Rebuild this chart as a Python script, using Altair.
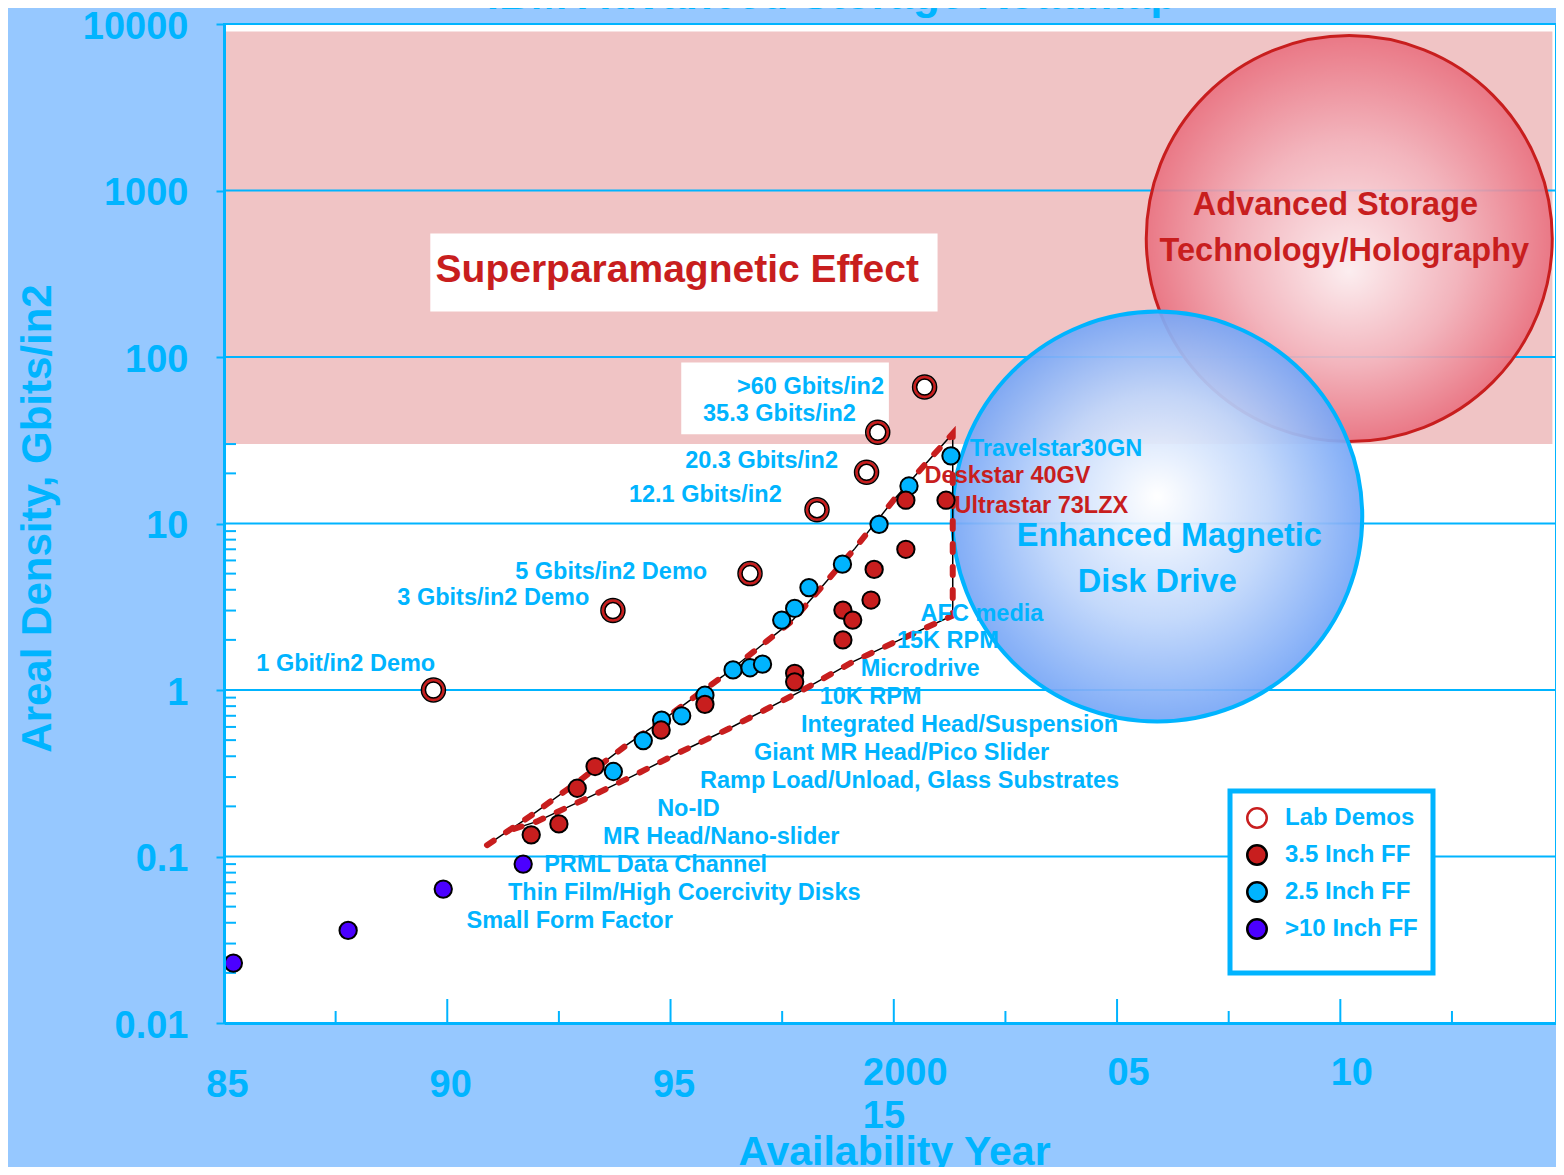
import altair as alt
import pandas as pd

CYAN = "#00B4FF"
RED = "#C81E1E"
PURPLE = "#4B00FF"
PINK = "#F0C4C5"
BG = "#96C8FF"
FONT = "Liberation Sans"

# ---------------- data ----------------
series_names = ["Lab Demos", "3.5 Inch FF", "2.5 Inch FF", ">10 Inch FF"]

lab_year = [89.69, 93.71, 96.78, 98.28, 99.39, 99.64, 100.69]
lab_density = [1.0, 3.0, 5.0, 12.1, 20.3, 35.3, 66.0]

ff35_year = [91.88, 92.50, 92.91, 93.31, 94.79, 95.77, 97.78, 97.78, 98.86, 99.08,
             98.86, 99.49, 99.56, 100.27, 100.27, 101.17]
ff35_density = [0.135, 0.157, 0.257, 0.347, 0.575, 0.82, 1.26, 1.12, 3.02, 2.63,
                2.0, 3.47, 5.3, 7.0, 13.8, 13.8]

ff25_year = [93.72, 94.39, 94.80, 95.25, 95.77, 96.40, 96.78, 97.06, 97.49, 97.78,
             98.10, 98.85, 99.67, 100.34, 101.28]
ff25_density = [0.324, 0.497, 0.66, 0.70, 0.93, 1.32, 1.36, 1.43, 2.63, 3.09,
                4.12, 5.7, 9.88, 16.8, 25.5]

ff10_year = [85.21, 87.78, 89.91, 91.70]
ff10_density = [0.0229, 0.036, 0.0637, 0.090]

trend_year = [90.89, 91.86, 92.98, 94.02, 95.10, 96.17, 97.15, 97.71, 98.23, 99.13,
              100.02, 100.76, 101.32, 101.32, 100.13, 99.09, 97.90, 96.29, 95.21,
              94.17, 93.13, 92.00, 91.41]
trend_density = [0.117, 0.175, 0.288, 0.468, 0.745, 1.21, 1.96, 2.58, 3.72, 7.09,
                 14.1, 23.6, 34.7, 2.8, 2.0, 1.48, 0.978, 0.583, 0.423,
                 0.306, 0.224, 0.162, 0.144]

band_year = [85.0, 114.75]
band_density = [30.0, 9000.0]

box_year1 = [89.62, 95.24]
box_year2 = [100.98, 99.89]
box_density1 = [187.5, 34.3]
box_density2 = [551.0, 92.7]

grid_values = [0.1, 1, 10, 100, 1000]
y_tick_values = [0.01, 0.1, 1, 10, 100, 1000, 10000]
y_tick_labels = ["0.01", "0.1", "1", "10", "100", "1000", "10000"]
y_minor_values = [m * d for d in (0.01, 0.1, 1) for m in range(2, 10)] + [20, 30]

x_tick_values = [85, 90, 95, 100, 105, 110]
x_tick_labels = ["85", "90", "95", "2000", "05", "10"]
x_extra_label = ["15"]
x_extra_year = [100]
x_major_ticks = [90, 95, 100, 105, 110]
x_minor_ticks = [87.5, 92.5, 97.5, 102.5, 107.5, 112.5]

demo_labels = [">60 Gbits/in2", "35.3 Gbits/in2", "20.3 Gbits/in2", "12.1 Gbits/in2",
               "5 Gbits/in2 Demo", "3 Gbits/in2 Demo", "1 Gbit/in2 Demo"]
demo_label_year = [99.78, 99.15, 98.75, 97.49, 95.82, 93.18, 89.73]
demo_label_density = [66.5, 45.2, 23.6, 14.9, 5.09, 3.56, 1.43]

tech_labels = ["Travelstar30GN", "AFC media", "15K RPM", "Microdrive", "10K RPM",
               "Integrated Head/Suspension", "Giant MR Head/Pico Slider",
               "Ramp Load/Unload, Glass Substrates", "No-ID", "MR Head/Nano-slider",
               "PRML Data Channel", "Thin Film/High Coercivity Disks", "Small Form Factor"]
tech_label_year = [101.70, 100.60, 100.07, 99.26, 98.34, 97.92, 96.87, 95.66, 94.70,
                   93.49, 92.17, 91.36, 90.43]
tech_label_density = [28.2, 2.85, 1.96, 1.33, 0.904, 0.614, 0.417, 0.283, 0.192,
                      0.131, 0.0888, 0.0603, 0.0409]

product_labels = ["Deskstar 40GV", "Ultrastar 73LZX"]
product_label_year = [100.69, 101.36]
product_label_density = [19.2, 12.8]

super_label = ["Superparamagnetic Effect"]
super_year = [95.15]
super_density = [335.0]

adv_labels = ["Advanced Storage", "Technology/Holography"]
adv_year = [109.89, 110.09]
adv_density = [823.0, 435.0]

emdd_labels = ["Enhanced Magnetic", "Disk Drive"]
emdd_year = [106.17, 105.9]
emdd_density = [8.37, 4.43]

adv_circle_year = [110.2]
adv_circle_density = [514.0]
emdd_circle_year = [105.9]
emdd_circle_density = [11.0]

chart_title = "IBM Advanced Storage Roadmap"

# ---------------- frames ----------------
points_df = pd.concat([
    pd.DataFrame({"year": ff10_year, "density": ff10_density, "series": ">10 Inch FF"}),
    pd.DataFrame({"year": ff25_year, "density": ff25_density, "series": "2.5 Inch FF"}),
    pd.DataFrame({"year": ff35_year, "density": ff35_density, "series": "3.5 Inch FF"}),
    pd.DataFrame({"year": lab_year, "density": lab_density, "series": "Lab Demos"}),
], ignore_index=True)
lab_df = pd.DataFrame({"year": lab_year, "density": lab_density})
trend_df = pd.DataFrame({"year": trend_year, "density": trend_density,
                         "i": list(range(len(trend_year)))})
band_df = pd.DataFrame({"x1": [band_year[0]], "x2": [band_year[1]],
                        "y1": [band_density[0]], "y2": [band_density[1]]})
box_df = pd.DataFrame({"x1": box_year1, "x2": box_year2, "y1": box_density1, "y2": box_density2})
grid_df = pd.DataFrame({"v": grid_values})
yminor_df = pd.DataFrame({"v": y_minor_values})
xmajor_df = pd.DataFrame({"v": x_major_ticks})
xminor_df = pd.DataFrame({"v": x_minor_ticks})


def label_expr(values, labels):
    expr = "''"
    for v, l in reversed(list(zip(values, labels))):
        expr = f"datum.value == {v} ? '{l}' : ({expr})"
    return expr


PLOT_W = 1332
x_scale = alt.Scale(domain=[85, 114.83], nice=False, zero=False)
y_scale = alt.Scale(type="log", domain=[0.01, 10000], nice=False)

x_axis = alt.Axis(
    values=x_tick_values, labelExpr=label_expr(x_tick_values, x_tick_labels),
    grid=False, ticks=False, domainColor=CYAN, domainWidth=3,
    labelColor=CYAN, labelFont=FONT, labelFontSize=38, labelFontWeight="bold",
    labelFlush=False, labelOverlap=False,
    labelPadding={"condition": {"test": "datum.value >= 100", "value": 31}, "value": 43},
    labelOffset={"condition": {"test": "datum.value >= 100", "value": 11}, "value": 3},
    title="Availability Year", titleColor=CYAN, titleFont=FONT, titleFontSize=41,
    titleFontWeight="bold", titleX=670, titleY=141, titleAlign="center",
    titleBaseline="alphabetic", zindex=1,
)
y_axis = alt.Axis(
    values=y_tick_values, labelExpr=label_expr(y_tick_values, y_tick_labels),
    grid=False, tickSize=8, tickWidth=2, tickColor=CYAN, domainColor=CYAN, domainWidth=3,
    labelColor=CYAN, labelFont=FONT, labelFontSize=38, labelFontWeight="bold",
    labelPadding=28, labelFlush=False, labelOverlap=False, labelOffset=3,
    title="Areal Density, Gbits/in2", titleColor=CYAN, titleFont=FONT, titleFontSize=42,
    titleFontWeight="bold", titleAngle=270, titleX=-174, titleY=494, titleAlign="center",
    titleBaseline="alphabetic", zindex=1,
)

X = lambda f: alt.X(f, type="quantitative", scale=x_scale)
Y = lambda f: alt.Y(f, type="quantitative", scale=y_scale)

band = alt.Chart(band_df).mark_rect(color=PINK).encode(
    x=alt.X("x1:Q", scale=x_scale, axis=x_axis), x2="x2:Q",
    y=alt.Y("y1:Q", scale=y_scale, axis=y_axis), y2="y2:Q")

boxes = alt.Chart(box_df).mark_rect(color="white").encode(
    x=X("x1"), x2="x2:Q", y=Y("y1"), y2="y2:Q")

grid = alt.Chart(grid_df).mark_rule(color=CYAN, strokeWidth=2).encode(y=Y("v"))

yminor = alt.Chart(yminor_df).mark_tick(orient="horizontal", size=12, thickness=2,
                                        color=CYAN, xOffset=6, opacity=1).encode(
    y=Y("v"), x=alt.XDatum(85, type="quantitative", scale=x_scale))
xmajor = alt.Chart(xmajor_df).mark_tick(orient="vertical", size=24, thickness=2,
                                        color=CYAN, yOffset=-12, opacity=1).encode(
    x=X("v"), y=alt.YDatum(0.01, type="quantitative", scale=y_scale))
xminor = alt.Chart(xminor_df).mark_tick(orient="vertical", size=12, thickness=2,
                                        color=CYAN, yOffset=-6, opacity=1).encode(
    x=X("v"), y=alt.YDatum(0.01, type="quantitative", scale=y_scale))

red_grad = alt.RadialGradient(
    gradient="radial", x1=0.5, y1=0.58, r1=0, x2=0.5, y2=0.5, r2=0.5,
    stops=[alt.GradientStop(offset=0, color="#FDF2F4"),
           alt.GradientStop(offset=0.55, color="#F3B3BC"),
           alt.GradientStop(offset=1, color="#E9707F")])
blue_grad = alt.RadialGradient(
    gradient="radial", x1=0.5, y1=0.45, r1=0, x2=0.5, y2=0.5, r2=0.5,
    stops=[alt.GradientStop(offset=0, color="#FFFFFF"),
           alt.GradientStop(offset=0.55, color="#BFD6FB"),
           alt.GradientStop(offset=1, color="#77A6F6")])

adv_circle = alt.Chart(pd.DataFrame({"year": adv_circle_year, "density": adv_circle_density})
                       ).mark_circle(size=406 * 406, fill=red_grad, stroke=RED, strokeWidth=3,
                                     opacity=1, fillOpacity=0.9).encode(x=X("year"), y=Y("density"))
emdd_circle = alt.Chart(pd.DataFrame({"year": emdd_circle_year, "density": emdd_circle_density})
                        ).mark_circle(size=410 * 410, fill=blue_grad, stroke=CYAN, strokeWidth=4,
                                      opacity=1, fillOpacity=0.92).encode(x=X("year"), y=Y("density"))

trend_black = alt.Chart(trend_df).mark_line(color="black", strokeWidth=1.5).encode(
    x=X("year"), y=Y("density"), order="i:Q")
trend_red = alt.Chart(trend_df).mark_line(color=RED, strokeWidth=6, strokeDash=[8, 15],
                                          strokeCap="round").encode(
    x=X("year"), y=Y("density"), order="i:Q")

legend = alt.Legend(
    title=" ", titleOrient="bottom", titleFontSize=10, titlePadding=4,
    orient="none", legendX=1006, legendY=767, direction="vertical",
    fillColor="white", strokeColor=CYAN, padding=15, rowPadding=7,
    symbolType="circle", symbolSize=380, symbolStrokeWidth=2.5, labelOffset=16,
    labelColor=CYAN, labelFont=FONT, labelFontSize=24, labelFontWeight="bold",
)
points = alt.Chart(points_df).mark_circle(opacity=1, size=300, strokeWidth=2).encode(
    x=X("year"), y=Y("density"),
    fill=alt.Fill("series:N", scale=alt.Scale(domain=series_names,
                                              range=["white", RED, CYAN, PURPLE]), legend=legend),
    stroke=alt.Stroke("series:N", scale=alt.Scale(domain=series_names,
                                                  range=[RED, "black", "black", "black"]), legend=legend),
)
lab_ring = alt.Chart(lab_df).mark_point(shape="circle", filled=False, size=380, color=RED,
                                        strokeWidth=3.5, opacity=1).encode(x=X("year"), y=Y("density"))
lab_outer = alt.Chart(lab_df).mark_point(shape="circle", filled=False, size=576, color="black",
                                         strokeWidth=1.5, opacity=1).encode(x=X("year"), y=Y("density"))
lab_inner = alt.Chart(lab_df).mark_point(shape="circle", filled=False, size=256, color="black",
                                         strokeWidth=1.5, opacity=1).encode(x=X("year"), y=Y("density"))


def text_layer(labels, years, dens, align, color, size):
    df = pd.DataFrame({"label": labels, "year": years, "density": dens})
    return alt.Chart(df).mark_text(align=align, baseline="middle", font=FONT, fontSize=size,
                                   fontWeight="bold", color=color).encode(
        x=X("year"), y=Y("density"), text="label:N")


t_demo = text_layer(demo_labels, demo_label_year, demo_label_density, "right", CYAN, 23.5)
t_tech = text_layer(tech_labels, tech_label_year, tech_label_density, "left", CYAN, 23.5)
t_prod = text_layer(product_labels, product_label_year, product_label_density, "left", RED, 23.5)
t_super = text_layer(super_label, super_year, super_density, "center", RED, 39)
t_adv = text_layer(adv_labels, adv_year, adv_density, "center", RED, 32.5)
t_emdd = text_layer(emdd_labels, emdd_year, emdd_density, "center", CYAN, 32.5)

t_x15 = alt.Chart(pd.DataFrame({"label": x_extra_label, "year": x_extra_year})).mark_text(
    align="left", baseline="alphabetic", dx=-31, font=FONT, fontSize=38, fontWeight="bold",
    color=CYAN).encode(x=X("year"), y=alt.value(1104), text="label:N")

t_title = alt.Chart(pd.DataFrame({"label": [chart_title]})).mark_text(
    align="center", baseline="alphabetic", font=FONT, fontSize=44, fontWeight="bold",
    color=CYAN).encode(x=alt.value(608), y=alt.value(-15), text="label:N")

chart = alt.layer(
    band, boxes, grid, yminor, xmajor, xminor, adv_circle, emdd_circle,
    trend_black, trend_red, points, lab_ring, lab_outer, lab_inner,
    t_demo, t_tech, t_prod, t_super, t_adv, t_emdd, t_x15, t_title,
).properties(
    width=PLOT_W, height=999,
    autosize=alt.AutoSizeParams(type="none"),
    padding={"left": 216, "top": 16, "right": 0, "bottom": 144},
    background=BG,
).configure_view(fill="white", stroke=CYAN, strokeWidth=2
).configure_legend(strokeWidth=5)

chart.save("out.html", embed_options={"renderer": "svg", "actions": False})
